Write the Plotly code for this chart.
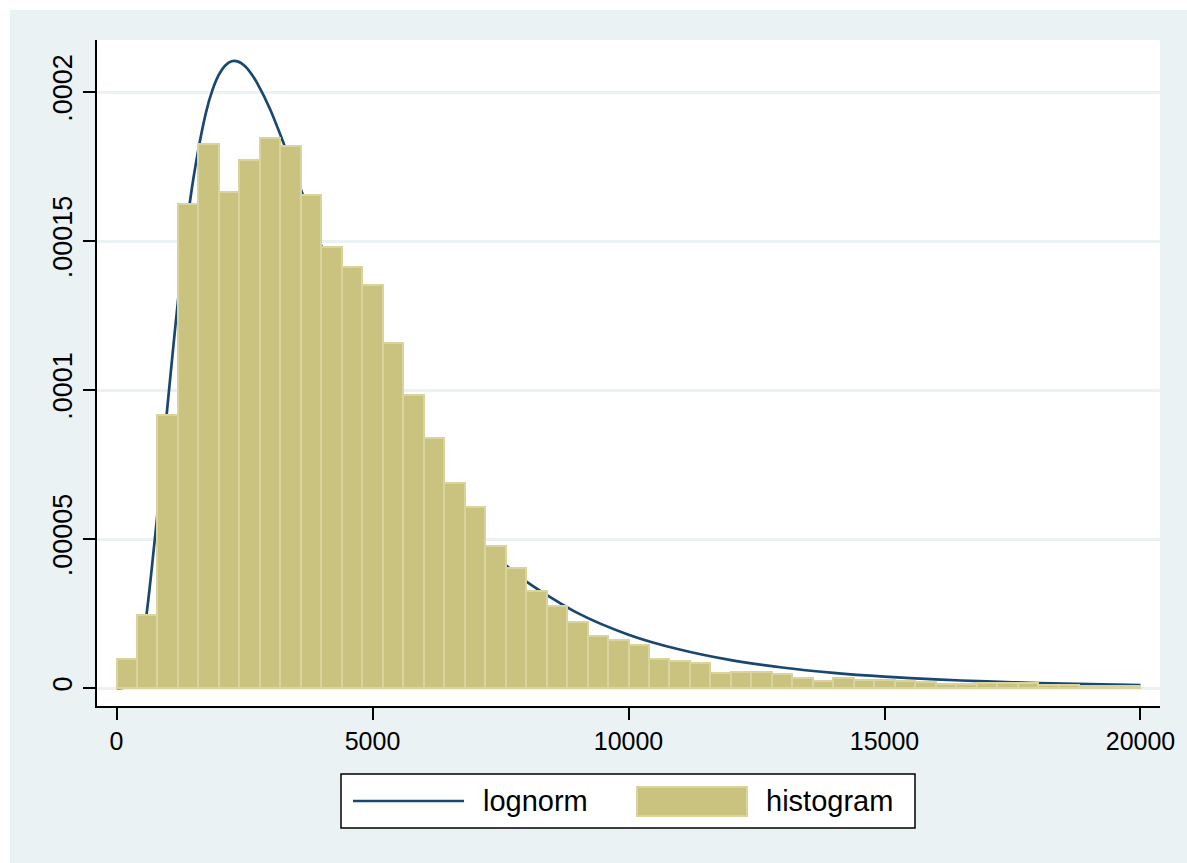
import plotly.graph_objects as go

# Histogram: density per 400-wide bin, 0 .. 20000
bin_width = 400
bin_starts = list(range(0, 20000, bin_width))
density = [
    9.7e-6, 2.44e-5, 9.15e-5, 1.623e-4, 1.825e-4, 1.664e-4, 1.773e-4, 1.845e-4, 1.818e-4, 1.655e-4,
    1.481e-4, 1.413e-4, 1.352e-4, 1.157e-4, 9.84e-5, 8.39e-5, 6.88e-5, 6.07e-5, 4.78e-5, 4.04e-5,
    3.26e-5, 2.75e-5, 2.23e-5, 1.76e-5, 1.62e-5, 1.45e-5, 9.8e-6, 9.2e-6, 8.5e-6, 5.2e-6,
    5.5e-6, 5.5e-6, 4.8e-6, 3.5e-6, 2.5e-6, 3.5e-6, 2.8e-6, 2.8e-6, 2.3e-6, 1.9e-6,
    1.3e-6, 1.3e-6, 1.7e-6, 1.7e-6, 1.7e-6, 1.0e-6, 1.0e-6, 0.6e-6, 0.6e-6, 0.7e-6,
]

# Fitted lognormal density curve
curve_x = [0, 250, 500, 750, 1000, 1250, 1500, 1750, 1875, 2000, 2125, 2250, 2375, 2500,
           2625, 2750, 3000, 3500, 4000, 4500, 5000, 5500, 6000, 6500, 7000, 7500, 8000,
           9000, 10000, 11000, 12000, 13000, 14000, 15000, 16000, 17000, 18000, 19000, 20000]
curve_y = [0.0, 7.6e-7, 1.48e-5, 5.02e-5, 9.54e-5, 1.377e-4, 1.708e-4, 1.933e-4, 2.007e-4,
           2.058e-4, 2.089e-4, 2.103e-4, 2.102e-4, 2.088e-4, 2.063e-4, 2.029e-4, 1.942e-4,
           1.721e-4, 1.484e-4, 1.259e-4, 1.058e-4, 8.84e-5, 7.37e-5, 6.14e-5, 5.12e-5,
           4.28e-5, 3.58e-5, 2.52e-5, 1.79e-5, 1.29e-5, 9.35e-6, 6.87e-6, 5.09e-6, 3.81e-6,
           2.88e-6, 2.19e-6, 1.68e-6, 1.30e-6, 1.01e-6]

x_ticks = [0, 5000, 10000, 15000, 20000]
x_tick_text = ["0", "5000", "10000", "15000", "20000"]
y_ticks = [0, 0.00005, 0.0001, 0.00015, 0.0002]
y_tick_text = ["0", ".00005", ".0001", ".00015", ".0002"]

NAVY = "#1A476F"
BAR_FILL = "#CAC27F"
BAR_EDGE = "#D9D39E"
REGION = "#EAF2F3"
FONT = "Liberation Sans, Arial, sans-serif"

W, H = 1187, 863
ML, MR, MT, MB = 97, 27, 40, 157
PW, PH = W - ML - MR, H - MT - MB
X_RANGE = [-381, 20381]
Y_RANGE = [-6.04e-6, 2.1745e-4]


def px(xp):
    return (xp - ML) / PW


def py(yp):
    return (H - MB - yp) / PH


fig = go.Figure()

# density curve on the base axes
fig.add_trace(go.Scatter(
    x=curve_x, y=curve_y, mode="lines", name="lognorm",
    line=dict(color=NAVY, width=2.7, shape="spline", smoothing=0.8),
))
# bars on overlaid axes so they sit above the curve
fig.add_trace(go.Bar(
    x=bin_starts, y=density, width=bin_width, offset=0, name="histogram",
    xaxis="x2", yaxis="y2",
    marker=dict(color=BAR_FILL, line=dict(color=BAR_EDGE, width=2)),
))

shapes = [
    # graph region background
    dict(type="rect", xref="paper", yref="paper", x0=px(10), x1=px(W), y0=py(H), y1=py(10),
         fillcolor=REGION, line=dict(width=0), layer="below"),
    # plot region
    dict(type="rect", xref="paper", yref="paper", x0=0, x1=1, y0=0, y1=1,
         fillcolor="white", line=dict(width=0), layer="below"),
    # legend box
    dict(type="rect", xref="paper", yref="paper", x0=px(341), x1=px(915), y0=py(828), y1=py(774),
         fillcolor="white", line=dict(color="black", width=1.5)),
    # legend key: line
    dict(type="line", xref="paper", yref="paper", x0=px(353), x1=px(464), y0=py(801), y1=py(801),
         line=dict(color=NAVY, width=2.7)),
    # legend key: bar
    dict(type="rect", xref="paper", yref="paper", x0=px(637), x1=px(747), y0=py(816), y1=py(787),
         fillcolor=BAR_FILL, line=dict(color=BAR_EDGE, width=2)),
]

annotations = [
    dict(text="lognorm", xref="paper", yref="paper", x=px(481), y=py(801),
         xanchor="left", yanchor="middle", showarrow=False,
         font=dict(family=FONT, size=29, color="black")),
    dict(text="histogram", xref="paper", yref="paper", x=px(764), y=py(801),
         xanchor="left", yanchor="middle", showarrow=False,
         font=dict(family=FONT, size=29, color="black")),
]

fig.update_layout(
    width=W, height=H,
    margin=dict(l=ML, r=MR, t=MT, b=MB, pad=0),
    paper_bgcolor="white", plot_bgcolor="rgba(0,0,0,0)",
    showlegend=False, bargap=0,
    font=dict(family=FONT, size=25, color="black"),
    shapes=shapes, annotations=annotations,
    xaxis=dict(
        range=X_RANGE, tickvals=x_ticks, ticktext=x_tick_text,
        showgrid=False, zeroline=False, showline=True, linecolor="black", linewidth=2,
        ticks="outside", ticklen=12, tickwidth=2, tickcolor="black",
        tickfont=dict(size=25),
    ),
    yaxis=dict(
        range=Y_RANGE, tickvals=y_ticks, ticktext=y_tick_text, tickangle=-90,
        showgrid=True, gridcolor=REGION, gridwidth=2.5, zeroline=False,
        showline=True, linecolor="black", linewidth=2,
        ticks="outside", ticklen=12, tickwidth=2, tickcolor="black",
        tickfont=dict(size=27), ticklabelstandoff=0,
    ),
    xaxis2=dict(range=X_RANGE, overlaying="x", visible=False, showgrid=False, zeroline=False),
    yaxis2=dict(range=Y_RANGE, overlaying="y", visible=False, showgrid=False, zeroline=False),
)

fig.write_html("out.html")
